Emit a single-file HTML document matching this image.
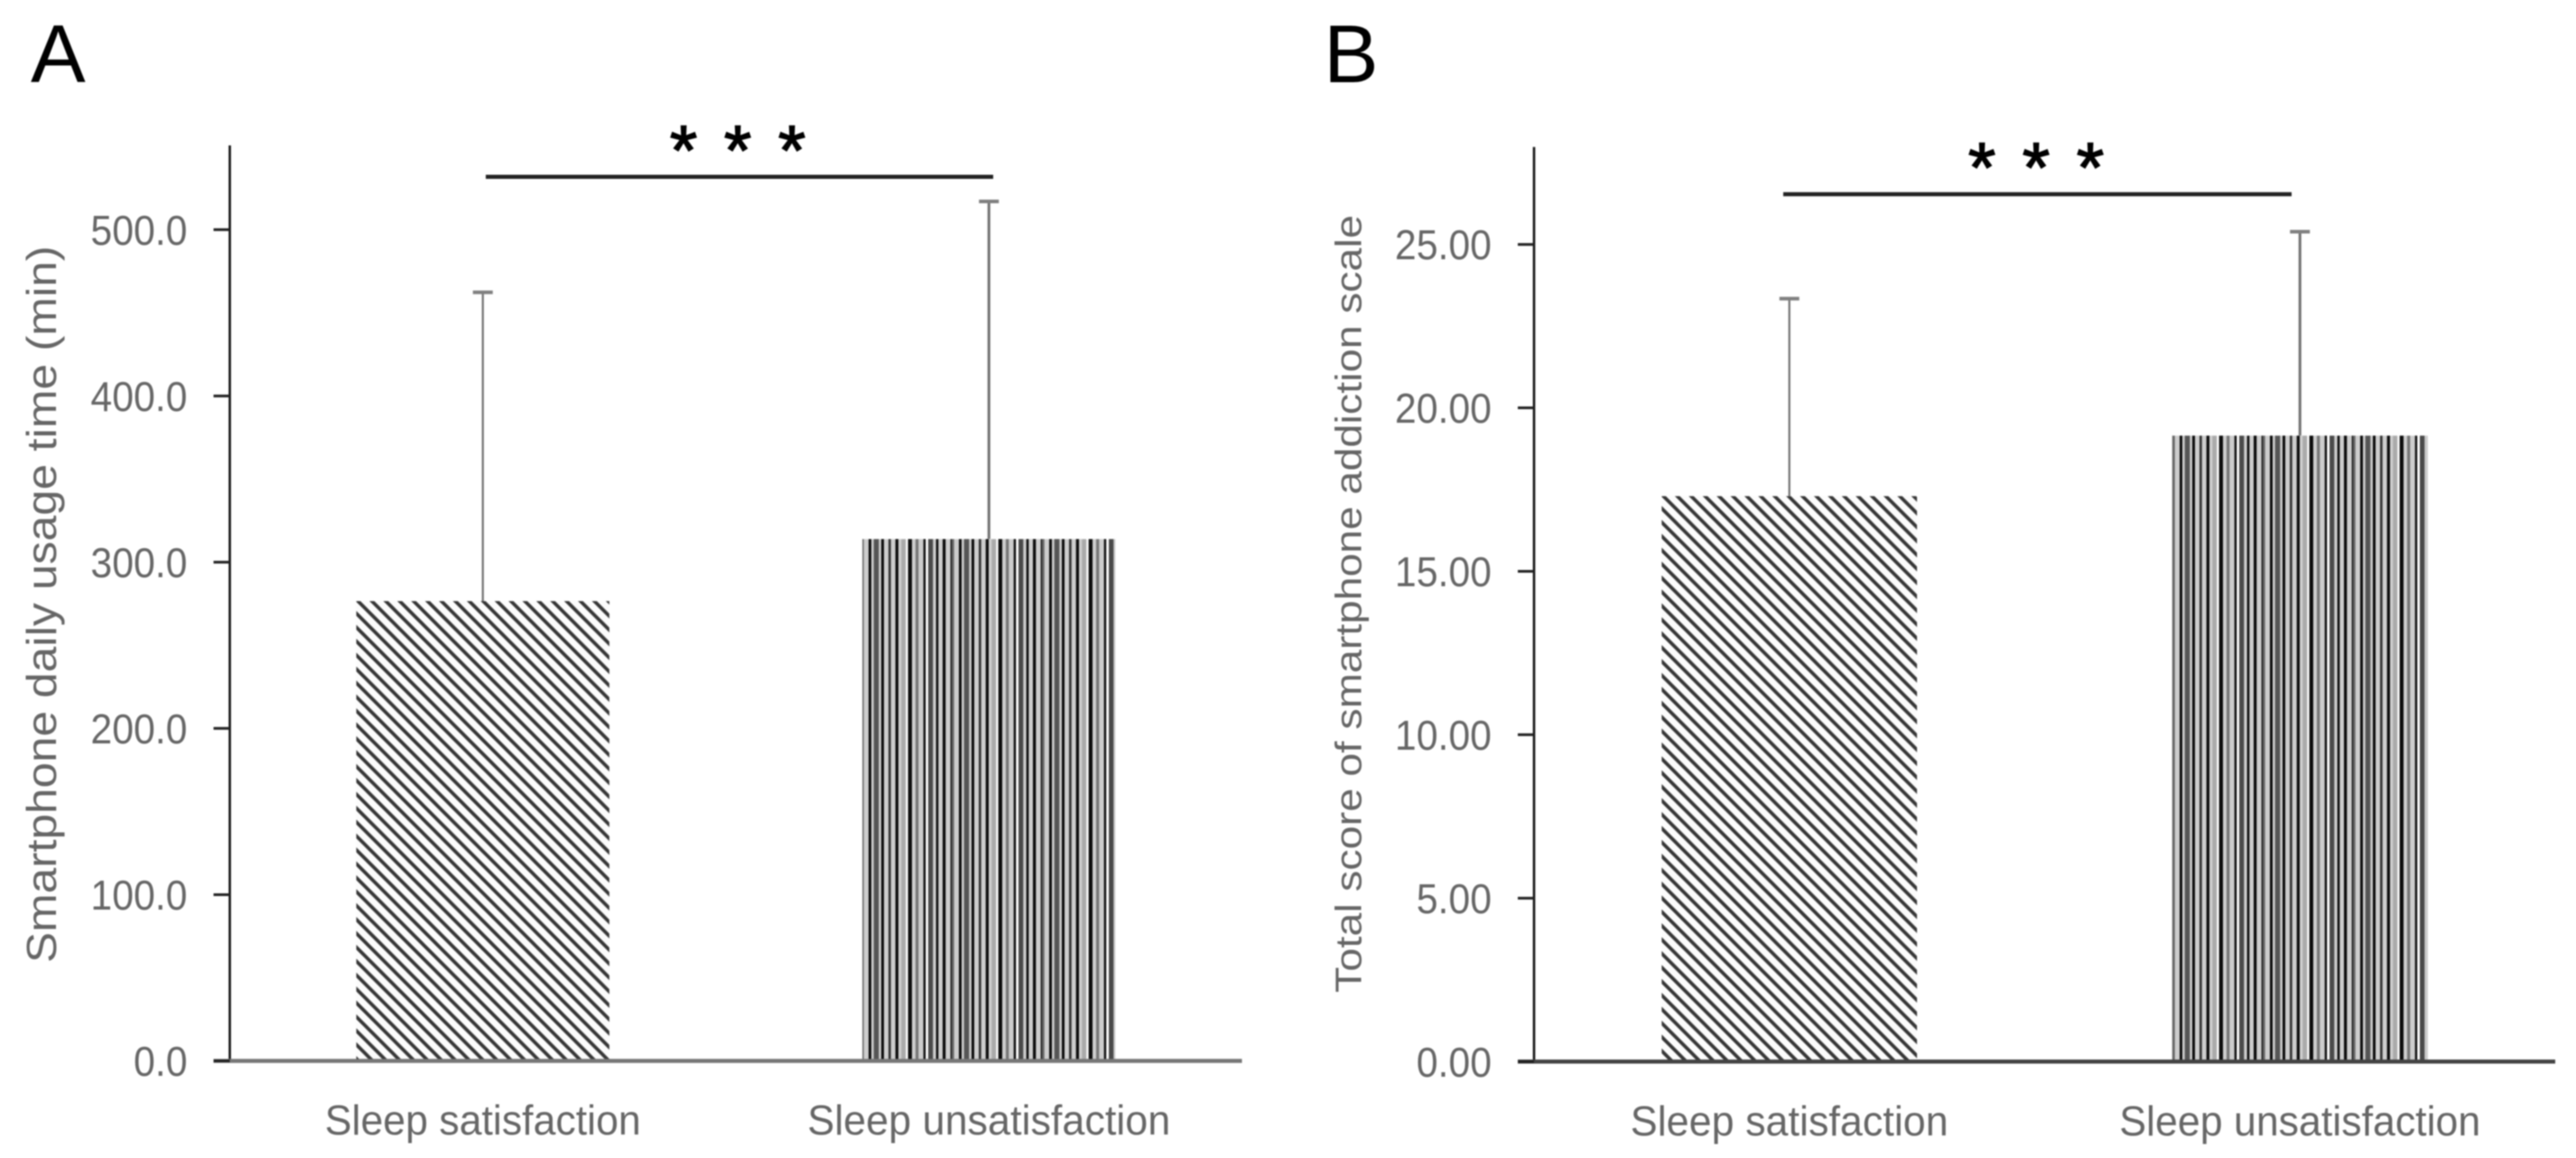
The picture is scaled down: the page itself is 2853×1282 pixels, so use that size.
<!DOCTYPE html>
<html lang="en">
<head>
<meta charset="utf-8">
<title>Sleep satisfaction bar charts</title>
<style>
  html, body { margin: 0; padding: 0; background: #fff; }
  #figure { display: block; width: 2853px; height: 1282px; filter: blur(0.7px); }
  text { font-family: "Liberation Sans", sans-serif; }
</style>
</head>
<body>
<svg id="figure" xmlns="http://www.w3.org/2000/svg" width="2853" height="1282" viewBox="0 0 2853 1282">
  <defs>
    <pattern id="hatch-a" patternUnits="userSpaceOnUse" width="15.4" height="15.4" x="391" y="660">
      <rect width="15.4" height="15.4" fill="#fcfcfc"/>
      <path d="M-3.85,-3.85 L19.25,19.25 M-3.85,11.55 L3.85,19.25 M11.55,-3.85 L19.25,3.85" stroke="#363636" stroke-width="3.8"/>
    </pattern>
    <pattern id="hatch-b" patternUnits="userSpaceOnUse" width="15.4" height="15.4" x="1842" y="549">
      <rect width="15.4" height="15.4" fill="#fcfcfc"/>
      <path d="M-3.85,-3.85 L19.25,19.25 M-3.85,11.55 L3.85,19.25 M11.55,-3.85 L19.25,3.85" stroke="#363636" stroke-width="3.8"/>
    </pattern>
    <pattern id="stripes-a" patternUnits="userSpaceOnUse" width="100" height="10" x="954" y="0">
      <rect width="100" height="10" fill="#cdcdcd"/>
      <rect x="0" width="2.7" height="10" fill="#666"/>
      <rect x="8" width="3" height="10" fill="#0c0c0c"/>
      <rect x="13.7" width="5.6" height="10" fill="#555"/>
      <rect x="22" width="3" height="10" fill="#0c0c0c"/>
      <rect x="30" width="2.7" height="10" fill="#333"/>
      <rect x="37.7" width="3.3" height="10" fill="#0c0c0c"/>
      <rect x="44.3" width="5" height="10" fill="#aaa"/>
      <rect x="49.3" width="2.4" height="10" fill="#fff"/>
      <rect x="51.7" width="4.3" height="10" fill="#0c0c0c"/>
      <rect x="60" width="3.3" height="10" fill="#777"/>
      <rect x="68.7" width="2.6" height="10" fill="#0c0c0c"/>
      <rect x="71.3" width="2.7" height="10" fill="#fff"/>
      <rect x="74" width="5.3" height="10" fill="#4a4a4a"/>
      <rect x="82.7" width="2.6" height="10" fill="#0c0c0c"/>
      <rect x="90" width="3.3" height="10" fill="#0c0c0c"/>
      <rect x="98.7" width="1.3" height="10" fill="#0c0c0c"/>
    </pattern>
    <pattern id="stripes-b" patternUnits="userSpaceOnUse" width="100" height="10" x="2406" y="0">
      <rect width="100" height="10" fill="#cdcdcd"/>
      <rect x="0" width="2.7" height="10" fill="#666"/>
      <rect x="8" width="3" height="10" fill="#0c0c0c"/>
      <rect x="13.7" width="5.6" height="10" fill="#555"/>
      <rect x="22" width="3" height="10" fill="#0c0c0c"/>
      <rect x="30" width="2.7" height="10" fill="#333"/>
      <rect x="37.7" width="3.3" height="10" fill="#0c0c0c"/>
      <rect x="44.3" width="5" height="10" fill="#aaa"/>
      <rect x="49.3" width="2.4" height="10" fill="#fff"/>
      <rect x="51.7" width="4.3" height="10" fill="#0c0c0c"/>
      <rect x="60" width="3.3" height="10" fill="#777"/>
      <rect x="68.7" width="2.6" height="10" fill="#0c0c0c"/>
      <rect x="71.3" width="2.7" height="10" fill="#fff"/>
      <rect x="74" width="5.3" height="10" fill="#4a4a4a"/>
      <rect x="82.7" width="2.6" height="10" fill="#0c0c0c"/>
      <rect x="90" width="3.3" height="10" fill="#0c0c0c"/>
      <rect x="98.7" width="1.3" height="10" fill="#0c0c0c"/>
    </pattern>
  </defs>
  <g id="panel-a"></g>
  <g id="panel-b"></g>
</svg>
<script>
// ---- chart data ----
const categories = ['Sleep satisfaction', 'Sleep unsatisfaction'];

const usageMeans = [276.6, 313.9];
const usageErrorTops = [462.3, 517.0];
const usageTickValues = [0, 100, 200, 300, 400, 500];
const usageTickLabels = ['0.0', '100.0', '200.0', '300.0', '400.0', '500.0'];

const scoreMeans = [17.3, 19.15];
const scoreErrorTops = [23.34, 25.39];
const scoreTickValues = [0, 5, 10, 15, 20, 25];
const scoreTickLabels = ['0.00', '5.00', '10.00', '15.00', '20.00', '25.00'];

const starMarks = ['*', '*', '*'];

// ---- drawing ----
const NS = 'http://www.w3.org/2000/svg';
function mk(parent, tag, attrs, txt) {
  const el = document.createElementNS(NS, tag);
  for (const k in attrs) el.setAttribute(k, attrs[k]);
  if (txt !== undefined) el.textContent = txt;
  parent.appendChild(el);
  return el;
}
function linearScale(d0, d1, r0, r1) {
  return v => r0 + (v - d0) * (r1 - r0) / (d1 - d0);
}

function drawPanel(root, o) {
  const y = linearScale(o.domain[0], o.domain[1], o.py0, o.py1);
  const band = (o.right - o.left) / o.cats.length;
  const x = i => o.left + band * (i + 0.5);
  const barW = band * 0.5;

  // bars and error bars
  o.cats.forEach((c, i) => {
    const key = i === 0 ? 'satisfaction' : 'unsatisfaction';

    const stem = mk(root, 'line', { x1: x(i), x2: x(i), y1: y(o.means[i]), y2: y(o.errs[i]), stroke: '#707070', 'stroke-width': i === 0 ? 2.2 : 3 });
    
    

    const cap = mk(root, 'line', { x1: x(i) - 11, x2: x(i) + 11, y1: y(o.errs[i]), y2: y(o.errs[i]), stroke: '#808080', 'stroke-width': 4 });
    
    

    const bar = mk(root, 'rect', { x: x(i) - barW / 2, y: y(o.means[i]), width: barW, height: y(0) - y(o.means[i]), fill: i === 0 ? o.hatch : o.stripes });
    
    

    const lab = mk(root, 'text', { x: x(i), y: o.catBaseline, 'text-anchor': 'middle', 'font-size': 46, fill: '#666', textLength: o.catWidths[i], lengthAdjust: 'spacingAndGlyphs' }, c);
    
    
  });

  // axes
  const yAxis = mk(root, 'line', { x1: o.left, x2: o.left, y1: o.axisTop, y2: y(0), stroke: '#111', 'stroke-width': 2.6 });
  
  

  const xAxis = mk(root, 'line', { x1: o.left - 18, x2: o.right, y1: y(0), y2: y(0), stroke: o.xAxisColor, 'stroke-width': 4.5 });
  
  

  // ticks
  o.ticks.forEach((t, i) => {
    const tick = mk(root, 'line', { x1: o.left - 18, x2: o.left, y1: y(t), y2: y(t), stroke: '#222', 'stroke-width': 3 });
    
    

    const tl = mk(root, 'text', { x: o.left - 47, y: y(t) + 16.5, 'text-anchor': 'end', 'font-size': 46, fill: '#666' }, o.tickLabels[i]);
    
    
    tl.setAttribute('textLength', tl.getComputedTextLength() * 0.93);
    tl.setAttribute('lengthAdjust', 'spacingAndGlyphs');
  });

  // axis title
  const title = mk(root, 'text', { transform: 'translate(' + o.titleX + ',' + o.titleBottom + ') rotate(-90)', 'font-size': o.titleSize, fill: '#666', textLength: o.titleLength, lengthAdjust: 'spacingAndGlyphs' }, o.title);
  
  

  // significance
  const sig = mk(root, 'line', { x1: o.sigX[0], x2: o.sigX[1], y1: o.sigY, y2: o.sigY, stroke: '#222', 'stroke-width': 4.5 });
  
  

  starMarks.forEach((s, i) => {
    const st = mk(root, 'text', { x: o.starX + i * 60, y: o.starBaseline, 'text-anchor': 'middle', 'font-size': 78, fill: '#000', stroke: '#000', 'stroke-width': 1.5 }, s);
    
    
  });

  // panel letter
  const letter = mk(root, 'text', { x: o.letterX, y: 91, 'font-size': 91, fill: '#000' }, o.letter);
  
  
}

drawPanel(document.getElementById('panel-a'), {
  cats: categories, means: usageMeans, errs: usageErrorTops,
  ticks: usageTickValues, tickLabels: usageTickLabels,
  domain: [0, 500], py0: 1174.5, py1: 254.3,
  left: 254.5, right: 1375.5, axisTop: 161, xAxisColor: '#777',
  hatch: 'url(#hatch-a)', stripes: 'url(#stripes-a)',
  catBaseline: 1256, catWidths: [350, 402],
  title: 'Smartphone daily usage time (min)', titleX: 62, titleBottom: 1066, titleLength: 794, titleSize: 46,
  sigX: [538, 1100], sigY: 195.8, starX: 757, starBaseline: 193,
  letter: 'A', letterX: 34
});

drawPanel(document.getElementById('panel-b'), {
  cats: categories, means: scoreMeans, errs: scoreErrorTops,
  ticks: scoreTickValues, tickLabels: scoreTickLabels,
  domain: [0, 25], py0: 1175.3, py1: 270.6,
  left: 1699, right: 2830, axisTop: 162.7, xAxisColor: '#444',
  hatch: 'url(#hatch-b)', stripes: 'url(#stripes-b)',
  catBaseline: 1257, catWidths: [352, 400],
  title: 'Total score of smartphone addiction scale', titleX: 1507.5, titleBottom: 1099, titleLength: 861, titleSize: 41,
  sigX: [1975, 2538], sigY: 215, starX: 2195, starBaseline: 212,
  letter: 'B', letterX: 1466
});
</script>
</body>
</html>
